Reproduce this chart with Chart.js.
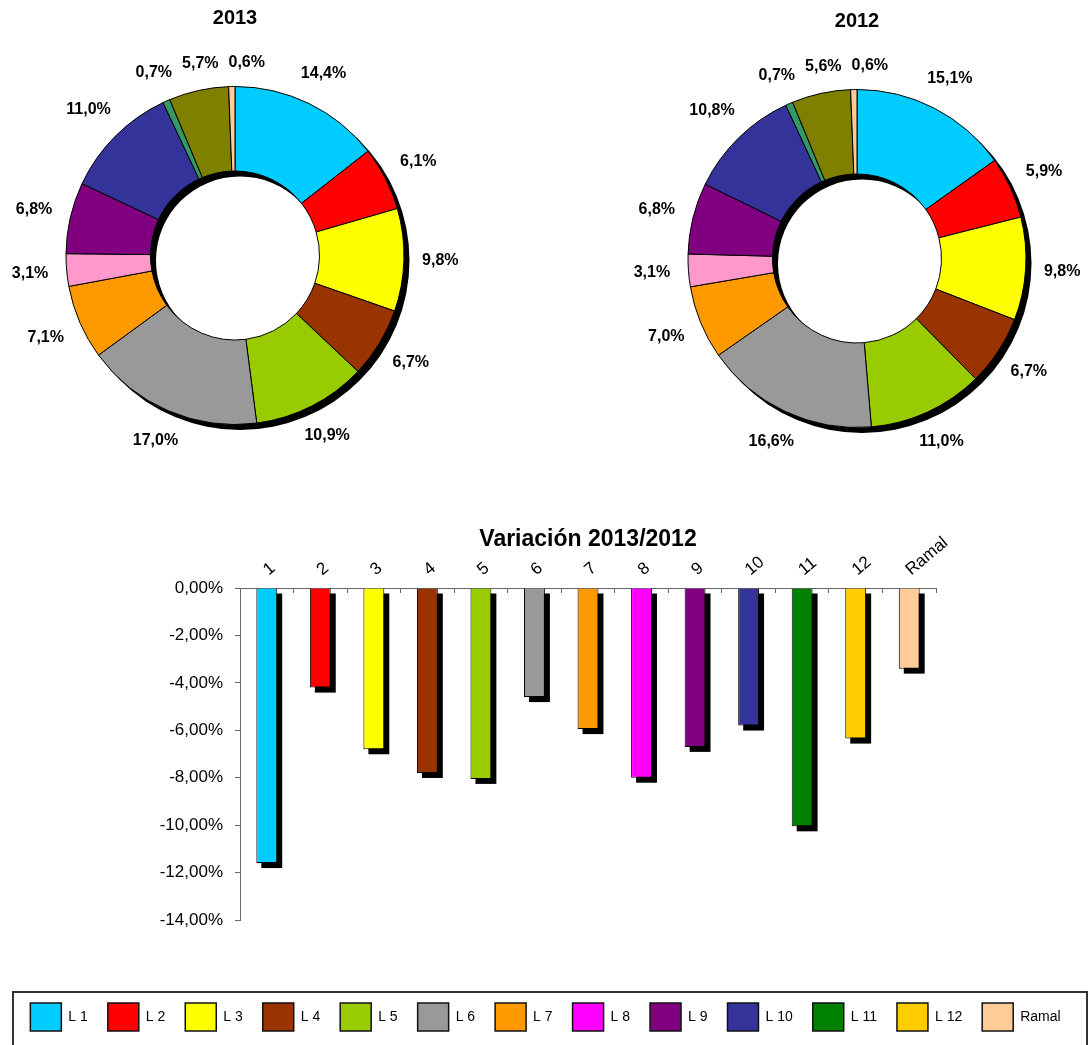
<!DOCTYPE html>
<html>
<head>
<meta charset="utf-8">
<script src="https://cdn.jsdelivr.net/npm/chart.js@4.4.1/dist/chart.umd.min.js"></script>
<style>
  html, body { margin: 0; padding: 0; background: #fff; width: 1091px; height: 1045px; overflow: hidden; }
  canvas { position: absolute; }
  #legendFrame { position: absolute; left: 12px; top: 991px; width: 1076px; height: 80px; border: 2px solid #333; box-sizing: border-box; }
</style>
</head>
<body>
<div id="legendFrame"></div>
<canvas id="pie2013" width="470" height="470" style="left:0;top:0"></canvas>
<canvas id="pie2012" width="468" height="470" style="left:623px;top:0"></canvas>
<canvas id="variacion" width="1091" height="565" style="left:0;top:480px"></canvas>
<script>
// datos
const lineas = ['L 1', 'L 2', 'L 3', 'L 4', 'L 5', 'L 6', 'L 7', 'L 8', 'L 9', 'L 10', 'L 11', 'L 12', 'Ramal'];
const shares2013 = [14.4, 6.1, 9.8, 6.7, 10.9, 17.0, 7.1, 3.1, 6.8, 11.0, 0.7, 5.7, 0.6];
const shares2012 = [15.1, 5.9, 9.8, 6.7, 11.0, 16.6, 7.0, 3.1, 6.8, 10.8, 0.7, 5.6, 0.6];
const variacionCats = ['1', '2', '3', '4', '5', '6', '7', '8', '9', '10', '11', '12', 'Ramal'];
const variacion = [-11.6, -4.2, -6.8, -7.8, -8.05, -4.6, -5.95, -8.0, -6.7, -5.8, -10.05, -6.35, -3.4];
const yMin = -14, yMax = 0, yStep = 2;

const pieColors = ['#00CCFF', '#FF0000', '#FFFF00', '#993300', '#99CC00', '#999999', '#FF9900',
                   '#FF99CC', '#800080', '#333399', '#339966', '#808000', '#FFCC99'];
const barColors = ['#00CCFF', '#FF0000', '#FFFF00', '#993300', '#99CC00', '#999999', '#FF9900',
                   '#FF00FF', '#800080', '#333399', '#008000', '#FFCC00', '#FFCC99'];

const FONT = 'Arial, "Liberation Sans", sans-serif';
const fmt = (v, d) => v.toFixed(d).replace('.', ',') + '%';

// sombra negra detras del anillo
const ringShadow = {
    id: 'ringShadow',
    beforeDatasetsDraw(chart) {
        const arc = chart.getDatasetMeta(0).data[0];
        if (!arc) return;
        const p = arc.getProps(['x', 'y', 'innerRadius', 'outerRadius'], true);
        const ctx = chart.ctx;
        ctx.save();
        ctx.fillStyle = '#000';
        ctx.beginPath();
        ctx.arc(p.x + 5, p.y + 5, p.outerRadius + 0.5, 0, Math.PI * 2);
        ctx.arc(p.x + 5, p.y + 5, p.innerRadius - 0.5, 0, Math.PI * 2, true);
        ctx.fill();
        ctx.restore();
    }
};

// etiquetas de porcentaje fuera del anillo; arriba se separan si se pisan
const pieLabels = {
    id: 'pieLabels',
    afterDatasetsDraw(chart) {
        const ctx = chart.ctx;
        const values = chart.data.datasets[0].data;
        ctx.save();
        ctx.font = 'bold 16px ' + FONT;
        ctx.fillStyle = '#000';
        ctx.textAlign = 'center';
        ctx.textBaseline = 'middle';
        let prev = null;
        chart.getDatasetMeta(0).data.forEach((arc, i) => {
            const p = arc.getProps(['x', 'y', 'startAngle', 'endAngle', 'outerRadius'], true);
            const mid = (p.startAngle + p.endAngle) / 2;
            const txt = fmt(values[i], 1);
            const w = ctx.measureText(txt).width;
            const c = Math.cos(mid), s = Math.sin(mid);
            const d = p.outerRadius + 18 + Math.abs(c) * w / 2 + Math.abs(s) * 6;
            let x = p.x + c * d, y = p.y + s * d;
            if (prev && s < -0.8 && Math.abs(y - prev.y) < 14 && x - w / 2 < prev.x + prev.w / 2 + 10) {
                x = prev.x + prev.w / 2 + 10 + w / 2;
            }
            ctx.fillText(txt, x, y);
            prev = { x, y, w };
        });
        ctx.restore();
    }
};

// sombra de las barras
const barShadow = {
    id: 'barShadow',
    beforeDatasetsDraw(chart) {
        const ctx = chart.ctx;
        ctx.save();
        ctx.fillStyle = '#000';
        chart.getDatasetMeta(0).data.forEach(bar => {
            const p = bar.getProps(['x', 'y', 'base', 'width'], true);
            const top = Math.min(p.y, p.base);
            ctx.fillRect(p.x - p.width / 2 + 5, top + 5, p.width, Math.abs(p.base - p.y));
        });
        ctx.restore();
    }
};

function pieChart(id, title, values, layoutPad, titlePad) {
    return new Chart(document.getElementById(id), {
        type: 'doughnut',
        data: {
            labels: lineas,
            datasets: [{
                data: values,
                backgroundColor: pieColors,
                borderColor: '#000',
                borderWidth: 1
            }]
        },
        options: {
            responsive: false,
            animation: false,
            cutout: '50%',
            layout: { padding: layoutPad },
            plugins: {
                legend: { display: false },
                tooltip: { enabled: false },
                title: {
                    display: true,
                    text: title,
                    color: '#000',
                    font: { family: FONT, size: 20, weight: 'bold' },
                    padding: titlePad
                }
            }
        },
        plugins: [ringShadow, pieLabels]
    });
}

pieChart('pie2013', '2013', shares2013, { left: 65, right: 65, top: 0, bottom: 45 }, { top: 6.5, bottom: 55.5 });
pieChart('pie2012', '2012', shares2012, { left: 64, right: 64, top: 0, bottom: 42 }, { top: 9, bottom: 56 });

new Chart(document.getElementById('variacion'), {
    type: 'bar',
    data: {
        labels: variacionCats,
        datasets: [{
            data: variacion,
            backgroundColor: barColors,
            borderColor: '#000',
            borderWidth: 1,
            barPercentage: 0.39,
            categoryPercentage: 1
        }]
    },
    options: {
        responsive: false,
        animation: false,
        layout: { padding: { left: 0, right: 0, top: 0, bottom: 4 } },
        plugins: {
            title: {
                display: true,
                text: 'Variación 2013/2012',
                fullSize: false,
                color: '#000',
                font: { family: FONT, size: 23, weight: 'bold' },
                padding: { top: 46, bottom: -27.6 }
            },
            legend: {
                display: true,
                position: 'bottom',
                title: { display: true, text: '', font: { size: 10 }, padding: { top: 0, bottom: 51 } },
                labels: {
                    boxWidth: 31,
                    boxHeight: 28,
                    padding: 20,
                    color: '#000',
                    font: { family: FONT, size: 14 },
                    generateLabels: () => lineas.map((t, i) => ({
                        text: t,
                        fillStyle: barColors[i],
                        strokeStyle: '#111',
                        fontColor: '#000',
                        lineWidth: 1.5,
                        hidden: false,
                        index: i,
                        datasetIndex: 0
                    }))
                }
            },
            tooltip: { enabled: false }
        },
        scales: {
            x: {
                position: 'top',
                grid: { offset: true, drawOnChartArea: false, tickLength: -5, color: '#666' },
                border: { display: true, color: '#666', width: 1 },
                ticks: {
                    color: '#000',
                    font: { family: FONT, size: 17 },
                    minRotation: 40,
                    maxRotation: 40,
                    autoSkip: false,
                    padding: 13,
                    labelOffset: 12
                },
                afterFit: s => { s.height = 62; }
            },
            y: {
                min: yMin,
                max: yMax,
                ticks: {
                    stepSize: yStep,
                    color: '#000',
                    font: { family: FONT, size: 17 },
                    padding: 12,
                    callback: v => fmt(v, 2)
                },
                grid: { drawOnChartArea: false, tickLength: 5, color: '#666' },
                border: { color: '#666' },
                afterFit: s => { s.width = 240; }
            },
            y2: {
                position: 'right',
                display: true,
                ticks: { display: false },
                grid: { display: false },
                border: { display: false },
                afterFit: s => { s.width = 155; }
            }
        }
    },
    plugins: [barShadow]
});
</script>
</body>
</html>
